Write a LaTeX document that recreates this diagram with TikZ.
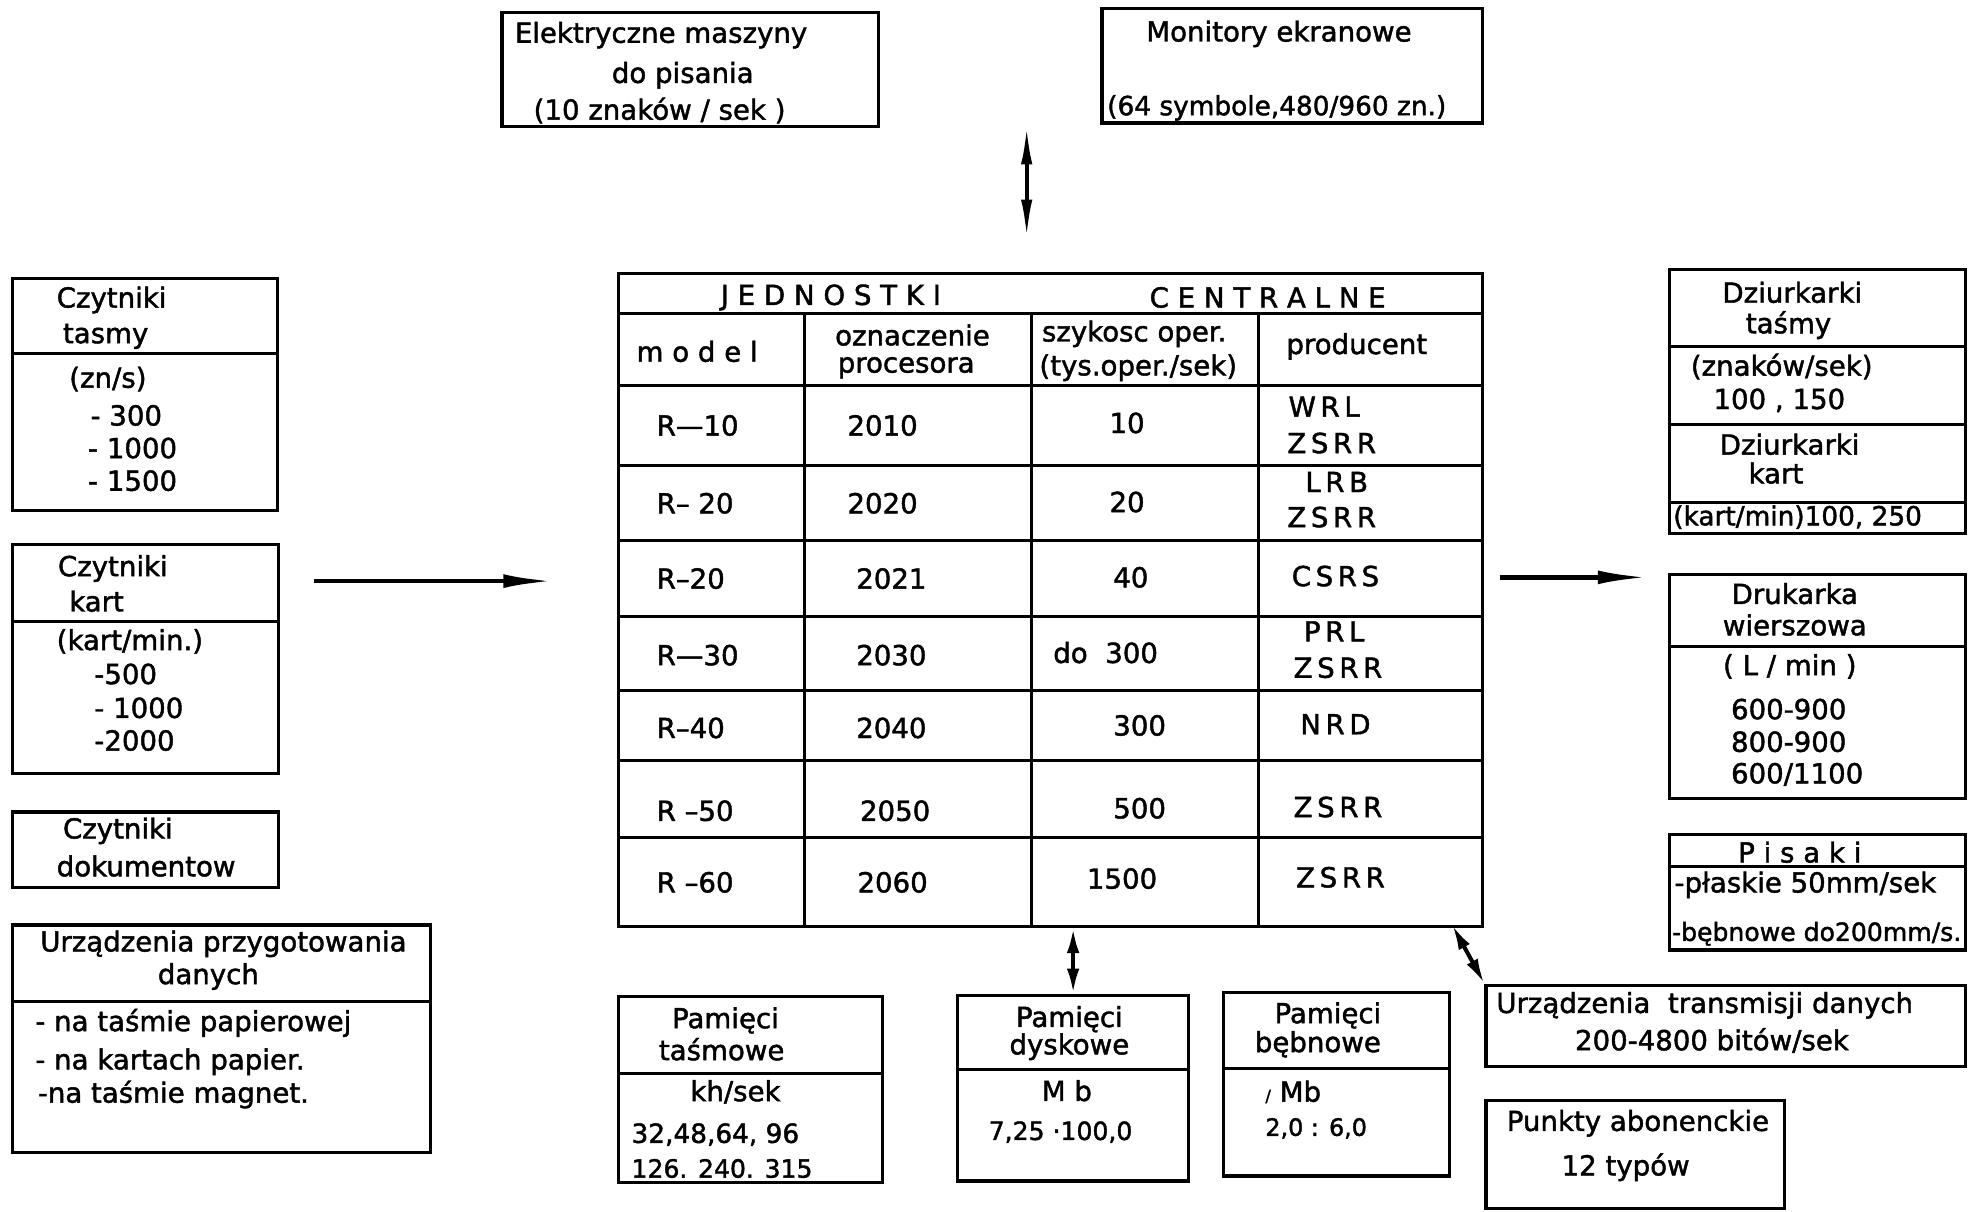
\documentclass[tikz,border=0pt]{standalone}
\usepackage{fontspec}
\setmainfont{DejaVu Sans}[FakeBold=1.6]
\usetikzlibrary{arrows.meta,fit}
\tikzset{
  bx/.style={draw, line width=2.6pt, inner sep=0pt},
  txt/.style={font=\fontsize{22}{26}\selectfont, inner sep=0pt, anchor=west},
  ctx/.style={font=\fontsize{22}{26}\selectfont, inner sep=0pt},
  dv/.style={line width=2.4pt},
  arr/.style={line width=3.6pt, -{Latex[length=40pt,width=11pt]}},
  dbl/.style={line width=3.2pt, {Latex[length=20pt,width=10pt]}-{Latex[length=20pt,width=10pt]}},
  spindle/.style={line width=3.2pt, {Latex[length=32pt,width=9pt]}-{Latex[length=32pt,width=9pt]}},
}
\newcommand\TL[5][]{\node[txt,#1] (#2) at (#3,#4) {#5};}
\newcommand\TC[5][]{\node[ctx,#1] (#2) at (#3,#4) {#5};}
\newcommand\BX[5]{\node[bx, fit={(#2,#3)(#4,#5)}] (#1) {};}
\newcommand\DV[2]{\draw[dv] (#1.west |- 0,#2) -- (#1.east |- 0,#2);}
\begin{document}
\begin{tikzpicture}[x=1pt,y=-1pt]
\useasboundingbox (0,0) rectangle (1568,965);

% top boxes
\BX{el}{400}{10}{700}{101}
\TL{el1}{410}{28}{Elektryczne maszyny}
\TC{el2}{544}{60}{do pisania}
\TL{el3}{425}{88}{(10 znaków / sek )}
\BX{mon}{878}{7}{1181}{98}
\TC{mon1}{1019}{27}{Monitory ekranowe}
\TL[font=\fontsize{21}{24}\selectfont]{mon2}{882}{86}{(64 symbole,480/960 zn.)}
\coordinate (ta1) at (818,99);
\coordinate (ta2) at (818,191);
\draw[spindle] (ta1) -- (ta2);

% left boxes
\BX{ct}{10}{222}{221}{407}
\DV{ct}{282}
\TL{ct1}{45}{239}{Czytniki}
\TL{ct2}{50}{268}{tasmy}
\TL{ct3}{55}{302}{(zn/s)}
\TL{ct4}{72}{331}{- 300}
\TL{ct5}{70}{357}{- 1000}
\TL{ct6}{70}{383}{- 1500}

\BX{ck}{10}{434}{222}{616}
\DV{ck}{495}
\TL{ck1}{46}{453}{Czytniki}
\TL{ck2}{55}{479}{kart}
\TL{ck3}{45}{511}{(kart/min.)}
\TL{ck4}{75}{537}{-500}
\TL{ck5}{75}{564}{- 1000}
\TL{ck6}{75}{590}{-2000}

\BX{cd}{10}{647}{222}{707}
\TL{cd1}{50}{662}{Czytniki}
\TL{cd2}{45}{690}{dokumentow}

\BX{up}{10}{737}{343}{918}
\DV{up}{798}
\TC{up1}{178}{752}{Urządzenia przygotowania}
\TC{up2}{166}{778}{danych}
\TL{up3}{28}{815}{- na taśmie papierowej}
\TL{up4}{28}{846}{- na kartach papier.}
\TL{up5}{30}{872}{-na taśmie magnet.}

\coordinate (la1) at (250,463);
\coordinate (la2) at (441,463);
\draw[arr] (la1) -- (la2);

% central table
\BX{tab}{493}{218}{1181}{738}
\DV{tab}{250}
\DV{tab}{307}
\DV{tab}{371}
\DV{tab}{431}
\DV{tab}{491}
\DV{tab}{550}
\DV{tab}{606}
\DV{tab}{667}
\draw[dv] (641,250) -- (tab.south -| 641,0);
\draw[dv] (822,250) -- (tab.south -| 822,0);
\draw[dv] (1003,250) -- (tab.south -| 1003,0);
\TC{ti1}{662}{237}{J E D N O S T K I}
\TC{ti2}{1010}{237}{C E N T R A L N E}
\TL{h1}{507}{280}{m o d e l}
\TC{h2}{727}{267}{oznaczenie}
\TC{h3}{722}{293}{procesora}
\TL{h4}{830}{266}{szykosc oper.}
\TL{h5}{828}{293}{(tys.oper./sek)}
\TC{h6}{1081}{276}{producent}

\TL{m1}{523}{339}{R—10}
\TL{m2}{523}{401}{R– 20}
\TL{m3}{523}{461}{R–20}
\TL{m4}{523}{522}{R—30}
\TL{m5}{523}{580}{R–40}
\TL{m6}{523}{646}{R –50}
\TL{m7}{523}{703}{R –60}

\TL{p1}{675}{339}{2010}
\TL{p2}{675}{401}{2020}
\TL{p3}{682}{461}{2021}
\TL{p4}{682}{522}{2030}
\TL{p5}{682}{580}{2040}
\TL{p6}{685}{646}{2050}
\TL{p7}{683}{703}{2060}

\TC{s1}{898}{337}{10}
\TC{s2}{898}{400}{20}
\TC{s3}{901}{460}{40}
\TL{s4}{839}{520}{do\ \ 300}
\TC{s5}{908}{578}{300}
\TC{s6}{908}{644}{500}
\TC{s7}{894}{700}{1500}

\TC{r1a}{1055}{324}{W\,R\,L}
\TC{r1b}{1061}{353}{Z\,S\,R\,R}
\TC{r2a}{1065}{384}{L\,R\,B}
\TC{r2b}{1061}{412}{Z\,S\,R\,R}
\TC{r3}{1064}{459}{C\,S\,R\,S}
\TC{r4a}{1063}{503}{P\,R\,L}
\TC{r4b}{1066}{532}{Z\,S\,R\,R}
\TC{r5}{1064}{577}{N\,R\,D}
\TC{r6}{1066}{643}{Z\,S\,R\,R}
\TC{r7}{1068}{699}{Z\,S\,R\,R}

% right boxes
\coordinate (ra1) at (1195,460);
\coordinate (ra2) at (1313,460);
\draw[arr] (ra1) -- (ra2);

\BX{dz}{1330}{215}{1566}{425}
\DV{dz}{276}
\DV{dz}{338}
\DV{dz}{400}
\TC{dz1}{1428}{233}{Dziurkarki}
\TC{dz2}{1425}{259}{taśmy}
\TL{dz3}{1347}{292}{(znaków/sek)}
\TL{dz4}{1365}{319}{100 , 150}
\TL{dz5}{1370}{354}{Dziurkarki}
\TL{dz6}{1393}{377}{kart}
\TL[font=\fontsize{21}{24}\selectfont]{dz7}{1333}{412}{(kart/min)100, 250}

\BX{dr}{1330}{458}{1566}{636}
\DV{dr}{515}
\TC{dr1}{1430}{473}{Drukarka}
\TC{dr2}{1430}{498}{wierszowa}
\TC{dr3}{1426}{531}{( L / min )}
\TL{dr4}{1379}{565}{600-900}
\TL{dr5}{1379}{591}{800-900}
\TL{dr6}{1379}{617}{600/1100}

\BX{pi}{1330}{665}{1566}{757}
\DV{pi}{690}
\TC{pi1}{1434}{679}{P i s a k i}
\TL{pi2}{1334}{705}{-płaskie 50mm/sek}
\TL[font=\fontsize{20}{24}\selectfont]{pi3}{1332}{744}{-bębnowe do200mm/s.}

% bottom boxes
\BX{tr}{1184}{785}{1566}{850}
\TL{tr1}{1192}{801}{Urządzenia\ \ transmisji danych}
\TC{tr2}{1364}{829}{200-4800 bitów/sek}
\coordinate (dg1) at (1157,737);
\draw[dbl] (dg1) -- (tr.north west);

\BX{pa}{1184}{877}{1422}{963}
\TC{pa1}{1305}{895}{Punkty abonenckie}
\TL{pa2}{1244}{930}{12 typów}

\BX{pt}{493}{794}{703}{942}
\DV{pt}{855}
\TC{pt1}{578}{813}{Pamięci}
\TC{pt2}{575}{836}{taśmowe}
\TC{pt3}{586}{870}{kh/sek}
\TL[font=\fontsize{21}{24}\selectfont]{pt4}{503}{904}{32,48,64, 96}
\TL[font=\fontsize{20}{24}\selectfont]{pt5}{503}{931}{126. 240. 315}

\BX{pd}{763}{793}{947}{941}
\DV{pd}{852}
\TC{pd1}{852}{812}{Pamięci}
\TC{pd2}{852}{834}{dyskowe}
\TC{pd3}{850}{869}{M b}
\TC[font=\fontsize{20}{24}\selectfont]{pd4}{845}{902}{7,25 ·100,0}
\draw[dbl] (pd.north |- tab.south) -- (pd.north);

\BX{pb}{975}{791}{1155}{937}
\DV{pb}{851}
\TC{pb1}{1058}{809}{Pamięci}
\TC{pb2}{1050}{832}{bębnowe}
\TL{pb3}{1008}{870}{{\fontsize{13}{13}\selectfont/} Mb}
\TL[font=\fontsize{19}{22}\selectfont]{pb4}{1008}{899}{2,0 : 6,0}
\end{tikzpicture}
\end{document}
